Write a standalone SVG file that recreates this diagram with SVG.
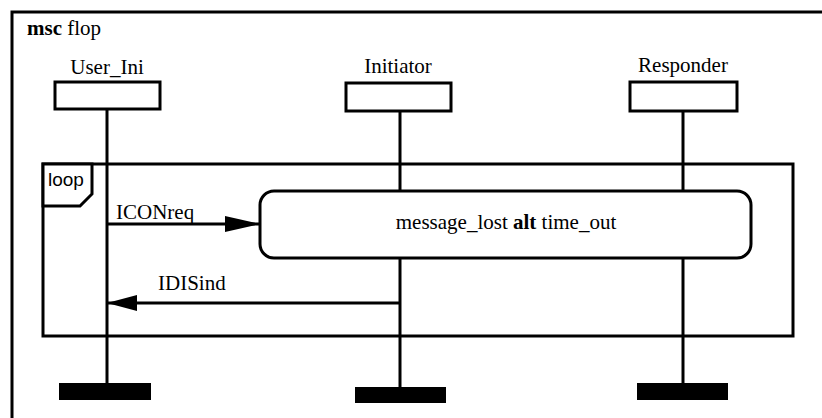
<svg xmlns="http://www.w3.org/2000/svg" width="822" height="418" viewBox="0 0 822 418">
<style>
.ln{stroke:#000;stroke-width:3;fill:none}
.bx{stroke:#000;stroke-width:3;fill:#fff}
.t{font-family:"Liberation Serif","Times New Roman",serif;font-size:21px;fill:#000}
.s{font-family:"Liberation Sans",Arial,sans-serif;font-size:19px;fill:#000}
.end{fill:#000}
</style>
<defs>
<marker id="ah" markerWidth="35" markerHeight="18" refX="35" refY="9" orient="auto" markerUnits="userSpaceOnUse">
<polygon points="0,1 35,9 0,17" fill="#000"/>
</marker>
<marker id="ah2" markerWidth="30" markerHeight="18" refX="30" refY="9" orient="auto" markerUnits="userSpaceOnUse">
<polygon points="0,1 30,9 0,17" fill="#000"/>
</marker>
</defs>
<g id="frame">
<polyline class="ln" points="12,418 12,12 822,12"/>
<text class="t" x="27" y="35"><tspan font-weight="bold">msc</tspan> flop</text>
</g>
<g id="lifelines">
<line class="ln" x1="107" y1="110" x2="107" y2="384"/>
<line class="ln" x1="400" y1="111" x2="400" y2="191"/>
<line class="ln" x1="400" y1="258" x2="400" y2="388"/>
<line class="ln" x1="683" y1="111" x2="683" y2="191"/>
<line class="ln" x1="683" y1="258" x2="683" y2="384"/>
</g>
<g id="loop">
<rect class="ln" x="43" y="164" width="750" height="172"/>
<polygon class="bx" points="43,164 92,164 92,194 80,206 43,206"/>
<text class="s" x="48" y="186">loop</text>
</g>
<g id="User_Ini">
<text class="t" x="107" y="74" text-anchor="middle">User_Ini</text>
<rect class="bx" x="55" y="82" width="105" height="27"/>
<rect class="end" x="59" y="383" width="92" height="17"/>
</g>
<g id="Initiator">
<text class="t" x="398" y="73" text-anchor="middle">Initiator</text>
<rect class="bx" x="346" y="83" width="105" height="28"/>
<rect class="end" x="355" y="387" width="91" height="16"/>
</g>
<g id="Responder">
<text class="t" x="683" y="72" text-anchor="middle">Responder</text>
<rect class="bx" x="630" y="82" width="107" height="29"/>
<rect class="end" x="637" y="383" width="91" height="17"/>
</g>
<g id="ref">
<rect class="bx" x="260" y="191" width="491" height="67" rx="14" ry="14"/>
<text class="t" x="506" y="229" text-anchor="middle">message_lost <tspan font-weight="bold">alt</tspan> time_out</text>
</g>
<g id="connectors">
<line class="ln" x1="107" y1="224" x2="260" y2="224" marker-end="url(#ah)"/>
<text class="t" x="116" y="219">ICONreq</text>
<line class="ln" x1="400" y1="303" x2="107" y2="303" marker-end="url(#ah2)"/>
<text class="t" x="158" y="290">IDISind</text>
</g>
</svg>
